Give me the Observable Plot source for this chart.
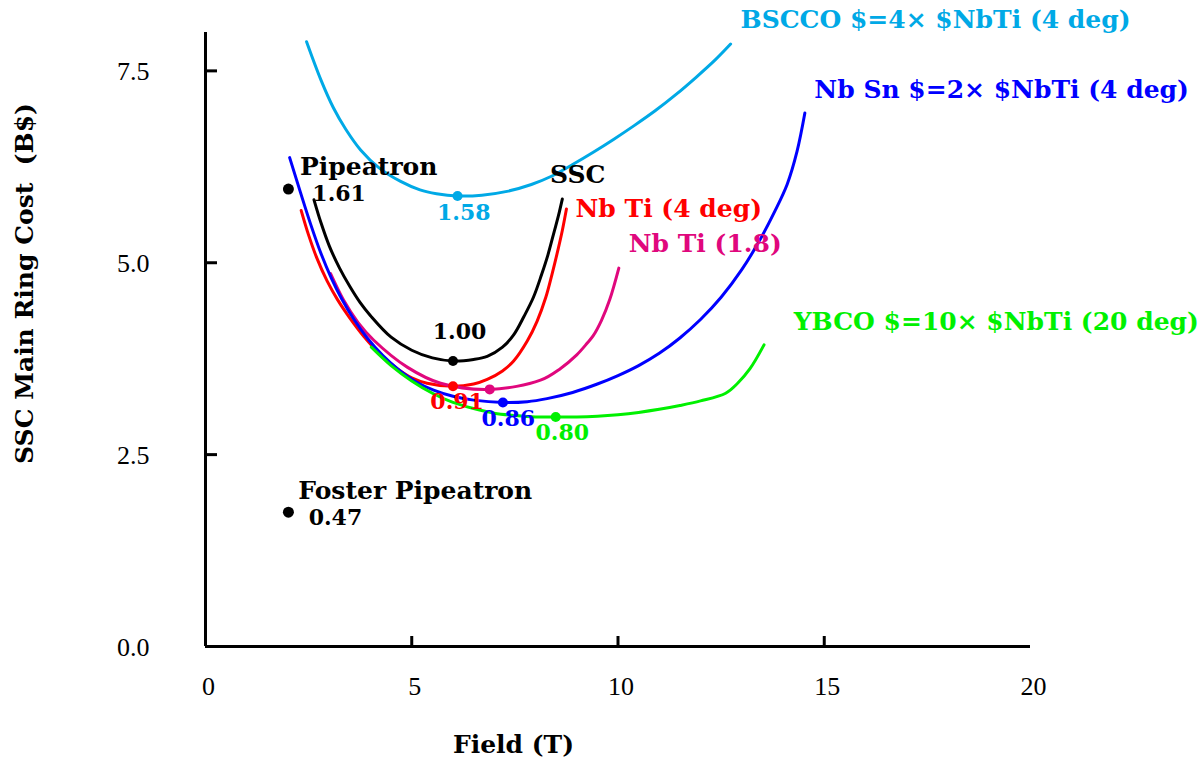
<!DOCTYPE html>
<html>
<head>
<meta charset="utf-8">
<script src="https://cdn.jsdelivr.net/npm/d3@7"></script>
<script src="https://cdn.jsdelivr.net/npm/@observablehq/plot@0.6"></script>
<style>
  html, body { margin: 0; padding: 0; background: #fff; }
  #chart svg { display: block; }
</style>
</head>
<body>
<div id="chart"></div>
<script>
// ---- Data ----
const sscX = [2.63, 2.8, 3.0, 3.25, 3.5, 3.75, 4.0, 4.5, 5.0, 5.5, 6.0, 6.5, 6.83, 7.2, 7.47, 7.72, 7.95, 8.15, 8.3, 8.45, 8.55, 8.65];
const sscY = [5.82, 5.52, 5.22, 4.93, 4.69, 4.48, 4.31, 4.03, 3.86, 3.76, 3.72, 3.74, 3.78, 3.90, 4.06, 4.30, 4.55, 4.85, 5.10, 5.40, 5.60, 5.83];

const nbti4X = [2.32, 2.5, 2.7, 2.95, 3.2, 3.5, 3.84, 4.25, 4.65, 5.0, 5.37, 6.0, 6.5, 6.83, 7.2, 7.47, 7.8, 8.04, 8.25, 8.4, 8.55, 8.65, 8.75];
const nbti4Y = [5.68, 5.36, 5.06, 4.76, 4.52, 4.28, 4.04, 3.80, 3.62, 3.50, 3.43, 3.39, 3.42, 3.48, 3.59, 3.72, 3.98, 4.24, 4.55, 4.85, 5.18, 5.42, 5.70];

const nbti18X = [3.03, 3.35, 3.7, 4.08, 4.89, 5.70, 6.89, 8.12, 8.60, 9.00, 9.25, 9.4, 9.6, 9.8, 10.02];
const nbti18Y = [4.86, 4.51, 4.22, 3.99, 3.64, 3.43, 3.35, 3.47, 3.62, 3.80, 3.95, 4.05, 4.25, 4.52, 4.93];

const nbsnX = [2.04, 2.3, 2.55, 2.8, 3.05, 3.3, 3.6, 3.92, 4.3, 4.65, 5.1, 5.53, 6.0, 6.5, 7.21, 7.8, 8.28, 8.9, 9.5, 10.0, 10.5, 11.0, 11.5, 12.0, 12.5, 13.0, 13.4, 13.8, 14.1, 14.34, 14.53];
const nbsnY = [6.37, 5.92, 5.50, 5.12, 4.80, 4.53, 4.26, 4.02, 3.79, 3.62, 3.45, 3.34, 3.26, 3.21, 3.18, 3.19, 3.23, 3.31, 3.42, 3.53, 3.66, 3.82, 4.02, 4.26, 4.55, 4.91, 5.26, 5.67, 6.02, 6.45, 6.95];

const ybcoX = [4.02, 4.5, 5.0, 5.5, 6.0, 6.5, 7.0, 7.5, 8.0, 8.49, 9.0, 9.5, 10.0, 10.5, 11.0, 11.5, 12.0, 12.61, 12.9, 13.2, 13.54];
const ybcoY = [3.90, 3.66, 3.46, 3.30, 3.18, 3.10, 3.04, 3.01, 2.99, 2.99, 2.99, 3.00, 3.02, 3.05, 3.09, 3.14, 3.20, 3.30, 3.43, 3.62, 3.93];

const bsccoX = [2.45, 2.8, 3.1, 3.4, 3.76, 4.2, 4.73, 5.2, 5.6, 6.11, 6.7, 7.31, 7.9, 8.4, 8.9, 9.4, 9.9, 10.4, 10.9, 11.4, 11.9, 12.35, 12.73];
const bsccoY = [7.88, 7.38, 7.02, 6.74, 6.47, 6.24, 6.06, 5.95, 5.90, 5.87, 5.88, 5.93, 6.02, 6.13, 6.28, 6.44, 6.61, 6.79, 6.98, 7.19, 7.42, 7.64, 7.85];

const seriesNames  = ["SSC", "NbTi4", "NbTi18", "NbSn", "YBCO", "BSCCO"];
const seriesColors = ["#000000", "#ff0000", "#e0077d", "#0000ff", "#00f000", "#00a9e6"];

// minimum markers (field, cost)
const minX = [6.0, 6.0, 6.89, 7.21, 8.49, 6.11];
const minY = [3.72, 3.39, 3.35, 3.18, 2.99, 5.87];

// single design points
const ptNames = ["Pipeatron", "Foster Pipeatron"];
const ptX = [2.01, 2.01];
const ptY = [5.96, 1.75];

// annotation labels
const lblText = ["1.00", "0.91", "0.86", "0.80", "1.58", "1.61", "0.47",
  "Pipeatron", "Foster Pipeatron", "SSC", "Nb Ti (4 deg)", "Nb Ti (1.8)",
  "BSCCO $=4\u00d7 $NbTi (4 deg)", "Nb Sn $=2\u00d7 $NbTi (4 deg)", "YBCO $=10\u00d7 $NbTi (20 deg)"];
const lblX = [6.16, 6.10, 7.34, 8.65, 6.26, 2.59, 2.50, 2.29, 2.25, 8.35, 8.97, 10.26, 12.97, 14.76, 14.26];
const lblY = [4.10, 3.19, 2.97, 2.78, 5.65, 5.90, 1.67, 6.25, 2.03, 6.14, 5.70, 5.24, 8.16, 7.25, 4.23];
const lblColor = ["#000000", "#ff0000", "#0000ff", "#00f000", "#00a9e6", "#000000", "#000000",
  "#000000", "#000000", "#000000", "#ff0000", "#e0077d", "#00a9e6", "#0000ff", "#00f000"];
const lblKind = ["num-mid", "num-mid", "num-mid", "num-mid", "num-mid", "num-start", "num-start",
  "word", "word", "word", "word", "word", "word", "word", "word"];

const xTicks = [5, 10, 15];
const xTickLabels = [0, 5, 10, 15, 20];
const yTicks = [2.5, 5.0, 7.5];
const yTickLabels = [0, 2.5, 5.0, 7.5];

// ---- Build tables ----
const seriesXs = [sscX, nbti4X, nbti18X, nbsnX, ybcoX, bsccoX];
const seriesYs = [sscY, nbti4Y, nbti18Y, nbsnY, ybcoY, bsccoY];
const lineRows = [];
seriesNames.forEach((s, i) => {
  seriesXs[i].forEach((x, j) => lineRows.push({series: s, x, y: seriesYs[i][j], color: seriesColors[i]}));
});
const minRows = minX.map((x, i) => ({x, y: minY[i], color: seriesColors[i]}));
const ptRows = ptNames.map((n, i) => ({name: n, x: ptX[i], y: ptY[i]}));
const lblRows = lblText.map((t, i) => ({text: t, x: lblX[i], y: lblY[i], color: lblColor[i], kind: lblKind[i]}));

const serif = "'DejaVu Serif', serif";
const tickFont = "'Liberation Serif', 'DejaVu Serif', serif";

const chart = Plot.plot({
  width: 1199,
  height: 772,
  marginLeft: 205,
  marginRight: 169,
  marginTop: 32,
  marginBottom: 126,
  x: {domain: [0, 20]},
  y: {domain: [0, 8]},
  axis: null,
  style: {background: "#fff"},
  marks: [
    Plot.ruleY([0], {strokeWidth: 3, stroke: "#000"}),
    Plot.ruleX([0], {strokeWidth: 3, stroke: "#000"}),
    Plot.tickX(xTicks, {x: d => d, insetTop: 604, strokeWidth: 3, stroke: "#000"}),
    Plot.tickY(yTicks, {y: d => d, insetRight: 813, strokeWidth: 3, stroke: "#000"}),
    Plot.text(xTickLabels, {x: d => d, y: 0, dy: 40, dx: 3, text: d => String(d), fontSize: 26, fontFamily: tickFont, fill: "#000"}),
    Plot.text(yTickLabels, {x: 0, y: d => d, dx: -56, dy: 1, textAnchor: "end", text: d => d.toFixed(1), fontSize: 26, fontFamily: tickFont, fill: "#000"}),
    Plot.line(lineRows, {x: "x", y: "y", z: "series", stroke: "color", strokeWidth: 3, curve: "catmull-rom"}),
    Plot.dot(minRows, {x: "x", y: "y", fill: "color", r: 5}),
    Plot.dot(ptRows, {x: "x", y: "y", fill: "#000", r: 5.5}),
    Plot.text(lblRows.filter(d => d.kind === "num-mid"), {x: "x", y: "y", text: "text", fill: "color", textAnchor: "middle", fontSize: 22, fontWeight: "bold", fontFamily: serif}),
    Plot.text(lblRows.filter(d => d.kind === "num-start"), {x: "x", y: "y", text: "text", fill: "color", textAnchor: "start", fontSize: 22, fontWeight: "bold", fontFamily: serif}),
    Plot.text(lblRows.filter(d => d.kind === "word"), {x: "x", y: "y", text: "text", fill: "color", textAnchor: "start", fontSize: 25, fontWeight: "bold", fontFamily: serif}),
    Plot.text(["Field (T)"], {frameAnchor: "bottom-left", dx: 308, dy: 106, text: d => d, textAnchor: "middle", fontSize: 25, fontWeight: "bold", fontFamily: serif, fill: "#000"}),
    Plot.text(["SSC Main Ring Cost\u00a0 (B$)"], {frameAnchor: "left", dx: -181, dy: -56, rotate: -90, text: d => d, textAnchor: "middle", fontSize: 25, fontWeight: "bold", fontFamily: serif, fill: "#000"})
  ]
});
document.getElementById("chart").appendChild(chart);
</script>
</body>
</html>
